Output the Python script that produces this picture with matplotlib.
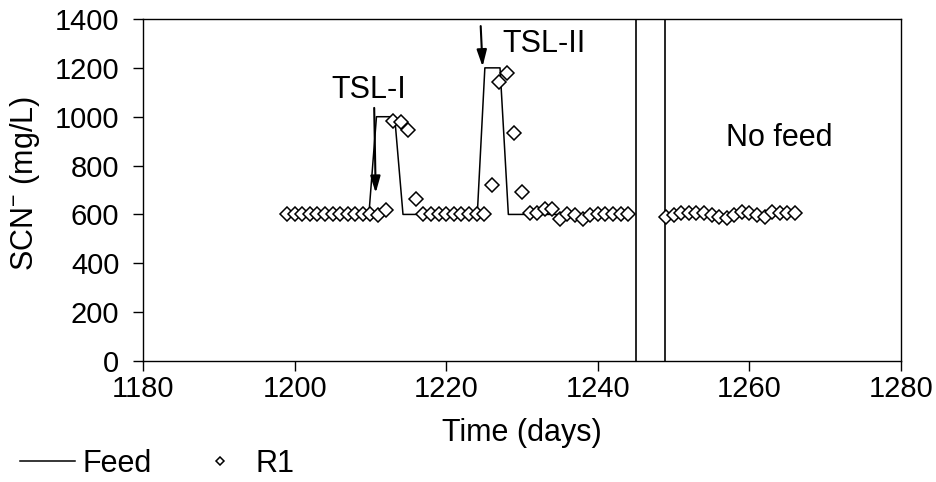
import matplotlib
matplotlib.use("Agg")
import matplotlib.pyplot as plt
from matplotlib.lines import Line2D

plt.rcParams["font.family"] = ["Liberation Sans", "DejaVu Sans"]
plt.rcParams["mathtext.fontset"] = "custom"
plt.rcParams["mathtext.rm"] = "Liberation Sans"
plt.rcParams["mathtext.it"] = "Liberation Sans"

# Feed SCN- concentration (mg/L) vs time (days)
feed_days = [1199, 1209.8, 1210.8, 1213.2, 1214.3, 1224.1, 1225.1, 1227.1, 1228.2, 1244]
feed_scn = [600, 600, 1000, 1000, 600, 600, 1200, 1200, 600, 600]

# Reactor R1 effluent SCN- (mg/L)
r1_days = list(range(1199, 1245)) + list(range(1249, 1267))
r1_scn = [
    600, 600, 600, 600, 600, 600, 600, 600, 600, 600, 600, 600, 597, 618,   # 1199-1212
    983, 979, 945, 663,                                                      # 1213-1216
    600, 600, 600, 600, 600, 600, 600, 600, 600,                             # 1217-1225
    720, 1143, 1177, 932, 693,                                               # 1226-1230
    604, 604, 622, 622, 583, 600, 598, 583, 598, 600, 600, 600, 600, 600,    # 1231-1244
    588, 598, 604, 604, 604, 604, 598, 588, 584, 598, 611, 604, 598, 591,    # 1249-1262
    608, 604, 604, 606,                                                      # 1263-1266
]

# Start and end of the interruption period
break_days = [1245.0, 1248.8]

x_ticks = [1180, 1200, 1220, 1240, 1260, 1280]
y_ticks = [0, 200, 400, 600, 800, 1000, 1200, 1400]

TXT = 22
TICK = 21

fig = plt.figure(figsize=(9.37, 4.82), dpi=100)
ax = fig.add_axes([143 / 937, 1 - 361 / 482, (901 - 143) / 937, (361 - 19) / 482])

feed_line, = ax.plot(feed_days, feed_scn, color="black", lw=1.1, zorder=2)
r1_pts, = ax.plot(r1_days, r1_scn, linestyle="none", marker="D", markersize=7,
                  markerfacecolor="white", markeredgecolor="black",
                  markeredgewidth=1.1, zorder=3)

for d in break_days:
    ax.axvline(d, color="black", lw=1.2, zorder=2)

ax.set_xlim(1180, 1280)
ax.set_ylim(0, 1400)
ax.set_xticks(x_ticks)
ax.set_yticks(y_ticks)
ax.tick_params(axis="both", direction="out", length=7, width=1, labelsize=TICK,
               colors="black")
ax.tick_params(axis="y", pad=10)
ax.tick_params(axis="x", pad=3)
for s in ax.spines.values():
    s.set_linewidth(1)
    s.set_color("black")

ax.set_xlabel("Time (days)", fontsize=TXT, labelpad=11)
ax.set_ylabel("SCN$^{-}$ (mg/L)", fontsize=TXT, labelpad=9)
ax.yaxis.label.set_y(0.52)

# Pulse annotations
arrow_kw = dict(arrowstyle="-|>,head_length=1.0,head_width=0.3", color="black",
                lw=1.5, mutation_scale=10, shrinkA=0, shrinkB=0)
ax.annotate("", xy=(1210.7, 688), xytext=(1210.5, 1036), arrowprops=arrow_kw)
ax.annotate("", xy=(1224.8, 1205), xytext=(1224.55, 1371), arrowprops=arrow_kw)
ax.text(1209.8, 1108, "TSL-I", fontsize=TXT, ha="center", va="center")
ax.text(1232.9, 1298, "TSL-II", fontsize=TXT, ha="center", va="center")
ax.text(1264.0, 913, "No feed", fontsize=TXT, ha="center", va="center")

leg_handles = [
    Line2D([], [], color="black", lw=1.1),
    Line2D([], [], linestyle="none", marker="D", markersize=4.3,
           markerfacecolor="white", markeredgecolor="black", markeredgewidth=1.1),
]
fig.legend(leg_handles, ["Feed", "R1"], loc="center left",
           bbox_to_anchor=(20 / 937, 1 - 464 / 482), ncol=2, frameon=False,
           fontsize=TXT, handlelength=1.8, handletextpad=0.26,
           columnspacing=1.32, borderpad=0, borderaxespad=0)

fig.savefig("out.png", dpi=100)
